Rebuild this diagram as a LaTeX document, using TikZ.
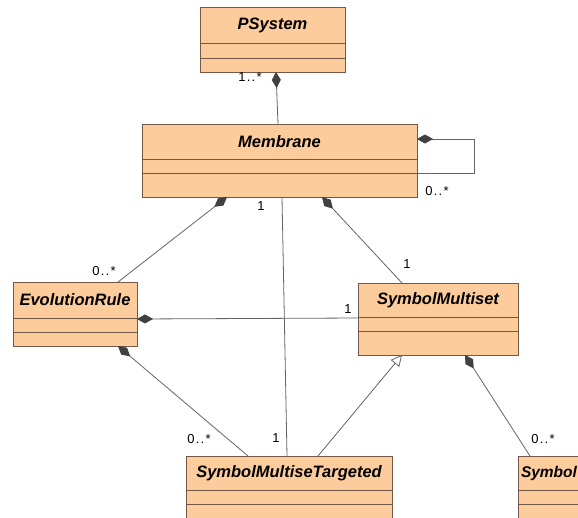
\documentclass[tikz,border=0pt]{standalone}
\usepackage{fontspec}
\setmainfont{Liberation Sans}
\usetikzlibrary{positioning, arrows.meta}

\definecolor{classfill}{RGB}{253,204,156}
\definecolor{classline}{RGB}{115,88,70}
\definecolor{linkgray}{RGB}{100,100,100}

\begin{document}
\begin{tikzpicture}[
        x=1pt, y=-1pt,
        node distance=0pt,
        classhead/.style={
            draw=classline,
            fill=classfill,
            line width=0.9pt,
            inner sep=0pt,
            outer sep=0pt,
            minimum height=#1,
            font=\fontsize{16.5}{18}\selectfont\bfseries\itshape
        },
        classpart/.style={
            draw=classline,
            fill=classfill,
            line width=0.9pt,
            inner sep=0pt,
            outer sep=0pt,
            minimum height=#1
        },
        link/.style={draw=linkgray, line width=0.8pt},
        comp/.style={link, {Diamond[length=16pt, width=9pt, fill=black!75, color=black!75]}-},
        inherit/.style={link, -{Triangle[open, length=11pt, width=11pt, fill=white]}},
        mult/.style={font=\fontsize{13}{15}\selectfont\addfontfeature{LetterSpace=10}, inner sep=0pt}
    ]

    \clip (0,0) rectangle (578,517);
    \fill[white] (0,0) rectangle (578,517);

    % classes
    \node[classhead=36pt, minimum width=145pt] (psys) at (272.5,25) {PSystem};
    \node[classpart=15pt, minimum width=145pt, below=of psys] (psys1) {};
    \node[classpart=14pt, minimum width=145pt, below=of psys1] (psys2) {};

    \node[classhead=35pt, minimum width=275pt] (memb) at (279.5,141.5) {Membrane};
    \node[classpart=14pt, minimum width=275pt, below=of memb] (memb1) {};
    \node[classpart=24pt, minimum width=275pt, below=of memb1] (memb2) {};

    \node[classhead=36pt, minimum width=124pt] (evol) at (75,300) {EvolutionRule};
    \node[classpart=14pt, minimum width=124pt, below=of evol] (evol1) {};
    \node[classpart=14pt, minimum width=124pt, below=of evol1] (evol2) {};

    \node[classhead=34pt, minimum width=160pt] (smset) at (438,300) {SymbolMultiset};
    \node[classpart=14pt, minimum width=160pt, below=of smset] (smset1) {};
    \node[classpart=24pt, minimum width=160pt, below=of smset1] (smset2) {};

    \node[classhead=34pt, text width=114pt, inner xsep=3pt, align=left,
          font=\fontsize{15.5}{18}\selectfont\bfseries\itshape] (sym) at (578,473) {Symbol};
    \node[classpart=14pt, minimum width=120pt, below=of sym] (sym1) {};
    \node[classpart=30pt, minimum width=120pt, below=of sym1] (sym2) {};

    \node[classhead=34pt, minimum width=206pt] (smt) at (289,473) {SymbolMultiseTargeted};
    \node[classpart=14pt, minimum width=206pt, below=of smt] (smt1) {};
    \node[classpart=30pt, minimum width=206pt, below=of smt1] (smt2) {};

    % self loop corner
    \coordinate (loop) at (474,139);

    % associations
    \draw[comp] ([xshift=3.5pt]psys2.south) -- ([xshift=-1.5pt]memb.north);
    \draw[comp] ([yshift=2.5pt]memb.east) -- (loop) |- (memb2.north east);
    \draw[comp] ([xshift=-52.5pt]memb2.south) -- ([xshift=43pt]evol.north);
    \draw[comp] ([xshift=42.5pt]memb2.south) -- ([xshift=-36pt]smset.north);
    \draw[link] ([xshift=2.5pt]memb2.south) -- ([xshift=-2pt]smt.north);
    \draw[comp] ([yshift=-1pt]evol.south east) -- ([yshift=-1pt]smset.south west);
    \draw[comp] ([xshift=43pt]evol2.south) -- ([xshift=-41pt]smt.north);
    \draw[inherit] ([xshift=29pt]smt.north) -- ([xshift=-36pt]smset2.south);
    \draw[comp] ([xshift=27pt]smset2.south) -- ([xshift=-48pt]sym.north);

    % multiplicities
    \node[mult] (m1) at (250,77) {1..*};
    \node[mult] (m2) at (437,191) {0..*};
    \node[mult] (m3) at (104,271) {0..*};
    \node[mult] (m4) at (407,264) {1};
    \node[mult] (m5) at (261,206) {1};
    \node[mult] (m6) at (276,438) {1};
    \node[mult] (m7) at (348,309) {1};
    \node[mult] (m8) at (199,439) {0..*};
    \node[mult] (m9) at (543,439) {0..*};

\end{tikzpicture}
\end{document}
